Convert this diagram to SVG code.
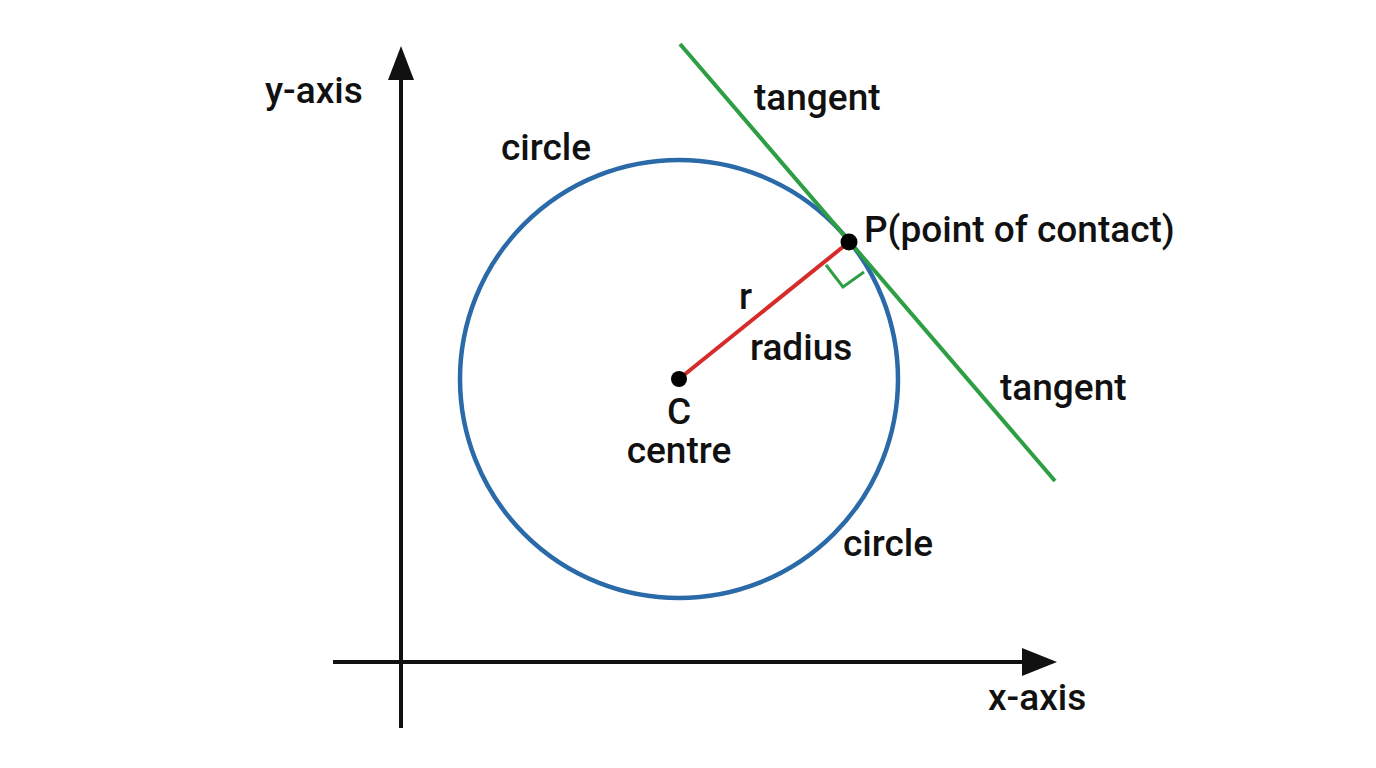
<svg xmlns="http://www.w3.org/2000/svg" width="1376" height="768" viewBox="0 0 1376 768">
<defs>
<style>
text{font-family:Roboto,"Liberation Sans",sans-serif;font-size:37px;font-weight:500;fill:#111}
.ax{stroke:#111;stroke-width:4;fill:none}
</style>
</defs>
<rect width="1376" height="768" fill="#fff"/>
<g id="connectors">
<line class="ax" x1="401" y1="728" x2="401" y2="80"/>
<path d="M388,80 L401,46 L414,80 z" fill="#111"/>
<line class="ax" x1="333" y1="662" x2="1025" y2="662"/>
<path d="M1022,648 L1057,662 L1022,676 z" fill="#111"/>
<line x1="679" y1="379" x2="849" y2="242" stroke="#d62b2b" stroke-width="4"/>
<polyline points="826,265 843,287 864,272" fill="none" stroke="#2e9e44" stroke-width="3"/>
</g>
<g id="circle"><circle cx="679" cy="379" r="219" fill="none" stroke="#2a6aa8" stroke-width="4.5"/></g>
<g id="tangent"><line x1="680" y1="44" x2="1055" y2="481" stroke="#2e9e44" stroke-width="4"/></g>
<g id="C"><circle cx="679" cy="379" r="8" fill="#000"/></g>
<g id="P"><circle cx="849" cy="242" r="8.5" fill="#000"/></g>
<g id="labels">
<text x="265" y="103">y-axis</text>
<text x="988" y="710">x-axis</text>
<text x="501" y="160">circle</text>
<text x="843" y="556">circle</text>
<text x="754" y="110">tangent</text>
<text x="1000" y="400">tangent</text>
<text x="864" y="242">P(point of contact)</text>
<text x="739" y="309">r</text>
<text x="750" y="360">radius</text>
<text x="679" y="424" text-anchor="middle">C</text>
<text x="679" y="463" text-anchor="middle">centre</text>
</g>
</svg>
